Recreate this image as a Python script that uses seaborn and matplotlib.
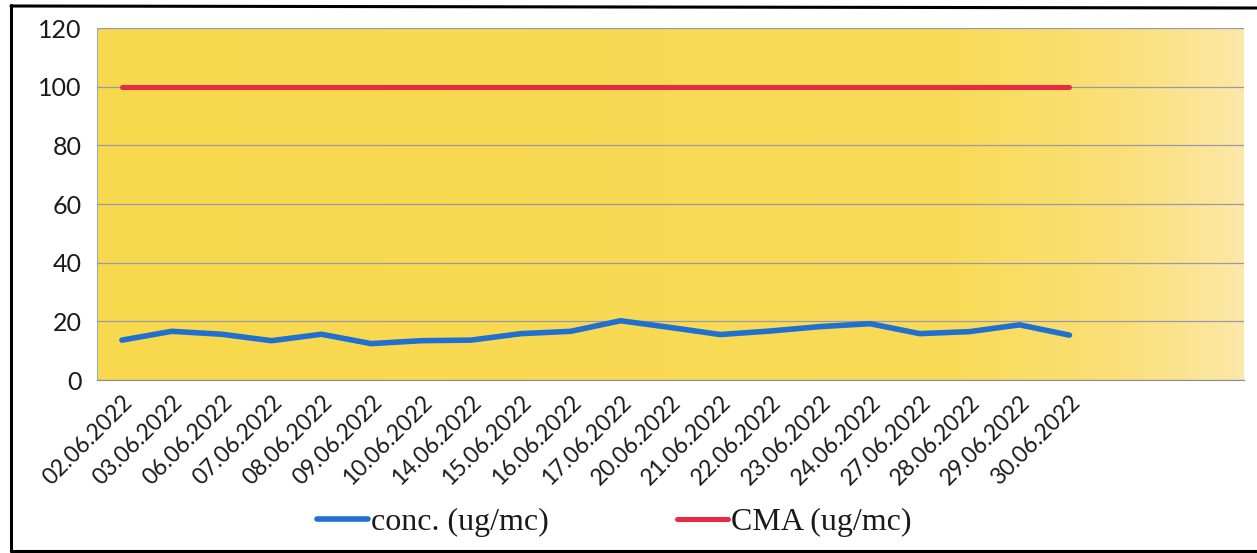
import numpy as np
import pandas as pd
import seaborn as sns
import matplotlib.pyplot as plt
from matplotlib.colors import LinearSegmentedColormap
from matplotlib.lines import Line2D

# chart data
dates = ["02.06.2022", "03.06.2022", "06.06.2022", "07.06.2022", "08.06.2022",
         "09.06.2022", "10.06.2022", "14.06.2022", "15.06.2022", "16.06.2022",
         "17.06.2022", "20.06.2022", "21.06.2022", "22.06.2022", "23.06.2022",
         "24.06.2022", "27.06.2022", "28.06.2022", "29.06.2022", "30.06.2022"]
conc = [13.6, 16.6, 15.6, 13.4, 15.6, 12.4, 13.4, 13.6, 15.8, 16.6,
        20.2, 17.9, 15.5, 16.7, 18.2, 19.2, 15.8, 16.5, 18.8, 15.3]
cma = [100, 100, 100, 100, 100, 100, 100, 100, 100, 100,
       100, 100, 100, 100, 100, 100, 100, 100, 100, 100]
n_slots = 23  # the category axis keeps three empty slots after the last date
y_ticks = [0, 20, 40, 60, 80, 100, 120]

label_conc = "conc. (ug/mc)"
label_cma = "CMA (ug/mc)"

df = pd.DataFrame({"pos": np.arange(len(dates)), "date": dates,
                   "conc": conc, "cma": cma})

sns.set_style("white")
plt.rcParams["font.family"] = ["Lato", "DejaVu Sans"]

fig = plt.figure(figsize=(12.57, 5.53), dpi=100)
ax = fig.add_axes([97 / 1257, 1 - 380 / 553, (1244 - 97) / 1257, (380 - 28) / 553])

# yellow plot area, paler only towards the right edge
cmap = LinearSegmentedColormap.from_list(
    "bg", [(0, "#f8d84c"), (0.75, "#f9db58"), (0.9, "#fae07a"), (1, "#fce8a8")])
ax.imshow(np.linspace(0, 1, 256)[None, :], cmap=cmap, aspect="auto",
          extent=(0, 1, 0, 1), transform=ax.transAxes, zorder=0)

sns.lineplot(data=df, x="pos", y="conc", ax=ax, color="#1f70d0", lw=4.0,
             zorder=3, solid_capstyle="round", solid_joinstyle="round")
sns.lineplot(data=df, x="pos", y="cma", ax=ax, color="#ea2a42", lw=3.6,
             zorder=3, solid_capstyle="round")

ax.set_xlim(-0.5, n_slots - 0.5)
ax.set_ylim(0, 120)
ax.set_yticks(y_ticks)
ax.set_xticks(np.arange(-0.5, n_slots, 1.0))
ax.set_xticklabels([])
ax.set_xticks(df["pos"], minor=True)
ax.set_xticklabels(dates, minor=True, rotation=45, ha="right",
                   rotation_mode="anchor", fontsize=16.5, color="#1a1a1a")
ax.tick_params(axis="x", which="minor", length=0, pad=8)
ax.tick_params(axis="x", which="major", length=6, width=0.9, color="#8a8aa0",
               direction="out")
ax.tick_params(axis="y", length=5, width=0.9, color="#8aa8c8", direction="out",
               labelsize=18, labelcolor="#1a1a1a", pad=6)

ax.grid(axis="y", color="#9a98b0", lw=0.9, zorder=1)
ax.set_axisbelow(False)
ax.set_xlabel("")
ax.set_ylabel("")
for side in ["top", "right"]:
    ax.spines[side].set_visible(False)
ax.spines["left"].set_color("#8fb0d0")
ax.spines["bottom"].set_color("#8a8aa0")
ax.spines["left"].set_zorder(2)

# legend under the axis
handles = [Line2D([], [], color="#1f70d0", lw=4.0),
           Line2D([], [], color="#ea2a42", lw=3.6)]
fig.legend(handles, [label_conc, label_cma], loc="center",
           bbox_to_anchor=(614 / 1257, 1 - 522 / 553), ncol=2, frameon=False,
           prop={"family": "Liberation Serif", "size": 23},
           handlelength=1.6, handletextpad=0.1, columnspacing=4.0,
           borderpad=0, labelcolor="#1a1a1a")

# scanned chart frame
frame = dict(color="black", lw=2.2, transform=fig.transFigure)
fig.add_artist(Line2D([11 / 1257, 11 / 1257], [1 - 5 / 553, 1 - 551 / 553], **frame))
fig.add_artist(Line2D([11 / 1257, 1], [1 - 6 / 553, 1 - 8 / 553], **frame))
fig.add_artist(Line2D([11 / 1257, 1], [1 - 551 / 553, 1 - 551 / 553], **frame))

fig.savefig("out.png", dpi=100)
